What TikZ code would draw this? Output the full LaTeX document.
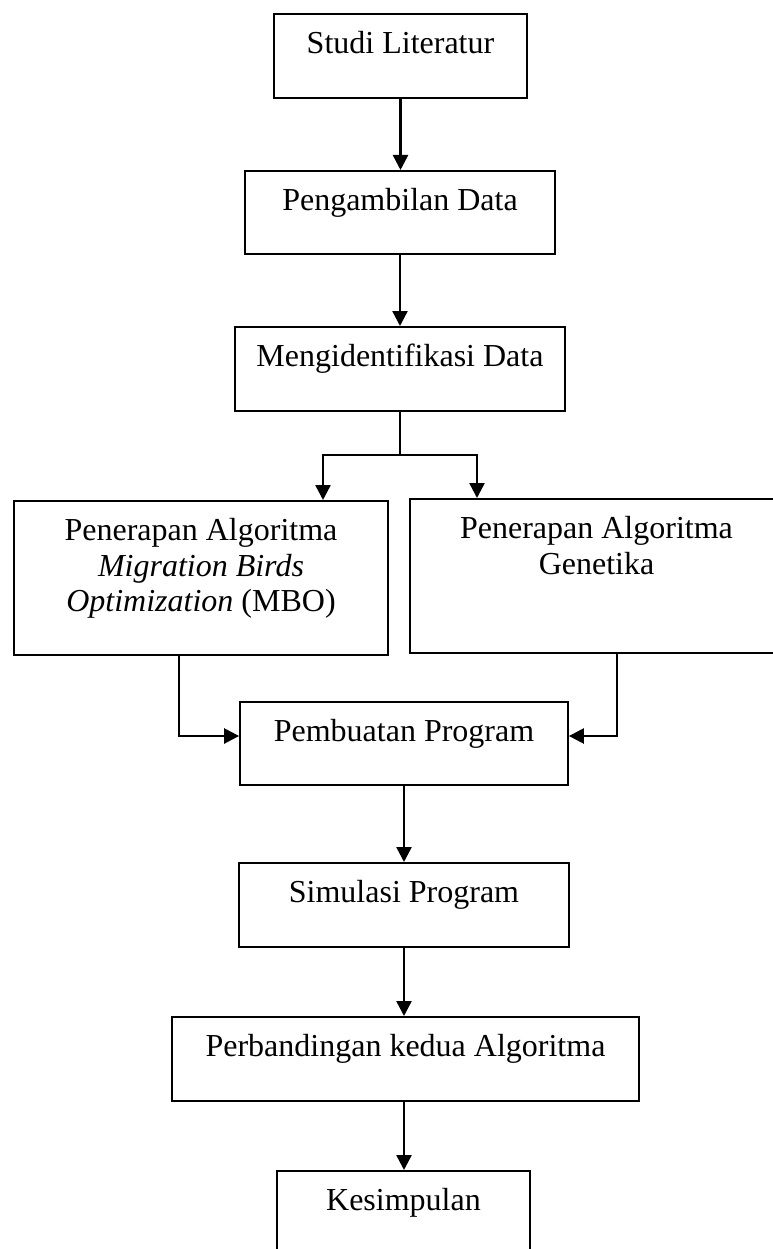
\documentclass[tikz,border=0pt]{standalone}
\usepackage{fontspec}
\setmainfont{Liberation Serif}
\usetikzlibrary{arrows.meta}

% centred lines whose first baseline is the box baseline
\newcommand{\boxlines}[1]{\begin{tabular}[t]{@{}c@{}}#1\end{tabular}}

\begin{document}
\begin{tikzpicture}[x=1pt, y=-1pt,
  stepbox/.style={draw, line width=1.8pt, inner sep=0pt, anchor=north,
    text height=40pt, text depth=44pt,
    font=\fontsize{32}{35.5}\selectfont},
  link/.style={line width=2.5pt},
  arr/.style={link, -{Triangle[length=15pt, width=15pt]}}]

\useasboundingbox[fill=white] (0,0) rectangle (772,1249);

% process boxes
\node[stepbox, minimum width=253pt] (studi) at (400.5,13) {\boxlines{Studi Literatur}};
\node[stepbox, minimum width=310pt, text depth=43pt] (ambil) at (400,170) {\boxlines{Pengambilan Data}};
\node[stepbox, minimum width=330pt] (ident) at (400,326) {\boxlines{Mengidentifikasi Data}};
\node[stepbox, minimum width=374pt, text depth=114pt] (mbo) at (201,500)
  {\boxlines{Penerapan Algoritma\\ \textit{Migration Birds}\\ \textit{Optimization} (MBO)}};
\node[stepbox, minimum width=373pt, text depth=114pt] (gen) at (596.5,498)
  {\boxlines{Penerapan Algoritma\\ Genetika}};
\node[stepbox, minimum width=328pt, text depth=43pt] (buat) at (404,701) {\boxlines{Pembuatan Program}};
\node[stepbox, minimum width=330pt] (sim) at (404,862) {\boxlines{Simulasi Program}};
\node[stepbox, minimum width=467pt] (banding) at (405.5,1016) {\boxlines{Perbandingan kedua Algoritma}};
\node[stepbox, minimum width=253pt] (simpul) at (403.5,1170) {\boxlines{Kesimpulan}};

% branch and join points
\coordinate (splitL) at (323,455);
\coordinate (splitR) at (477,455);
\coordinate (joinL) at (179,736);
\coordinate (joinR) at (617,736);

% connectors
\draw[arr] (studi.south) -- (studi.south |- ambil.north);
\draw[arr] (ambil.south) -- (ambil.south |- ident.north);
\draw[arr] (ident.south) |- (splitL) -- (splitL |- mbo.north);
\draw[arr] (ident.south) |- (splitR) -- (splitR |- gen.north);
\draw[arr] (mbo.south -| joinL) -- (joinL) -- (joinL -| buat.west);
\draw[arr] (gen.south -| joinR) -- (joinR) -- (joinR -| buat.east);
\draw[arr] (buat.south) -- (buat.south |- sim.north);
\draw[arr] (sim.south) -- (sim.south |- banding.north);
\draw[arr] (banding.south -| sim.south) -- (sim.south |- simpul.north);
\end{tikzpicture}
\end{document}
